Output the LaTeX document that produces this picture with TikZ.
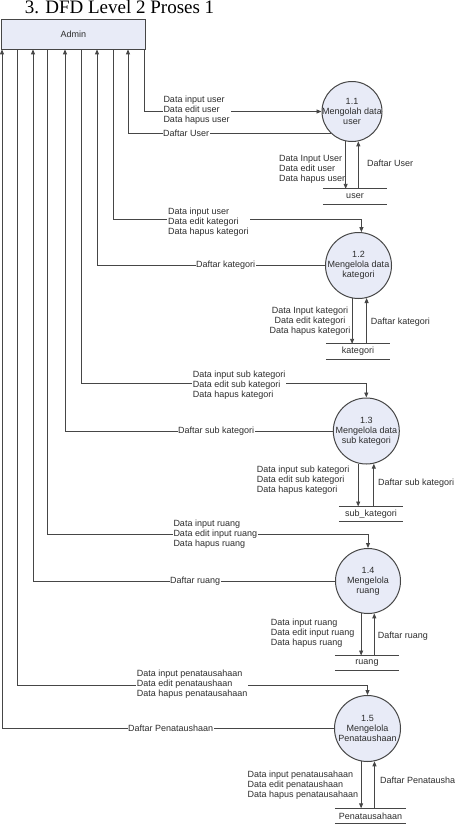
\documentclass[tikz,border=0pt]{standalone}
\usepackage{fontspec}
\setmainfont{Liberation Serif}
\setsansfont{Liberation Sans}
\usetikzlibrary{arrows.meta}
\definecolor{procfill}{RGB}{232,235,247}
\definecolor{edge}{RGB}{70,70,70}
\definecolor{txt}{RGB}{45,45,45}
\begin{document}
\begin{tikzpicture}[x=1pt,y=-1pt,
  every node/.style={font=\sffamily\fontsize{9}{10}\selectfont, text=txt},
  flow/.style={draw=edge, line width=0.9pt, -{Triangle[length=5pt,width=4pt]}},
  link/.style={draw=edge, line width=0.9pt},
  proc/.style={circle, draw=edge, line width=1pt, fill=procfill, minimum size=#1, inner sep=0pt},
  ptext/.style={align=center, inner sep=0pt},
  store/.style={minimum height=15pt, minimum width=#1, inner sep=0pt},
  lbl/.style={align=left, fill=white, inner sep=1pt, anchor=west},
  olbl/.style={fill=white, inner sep=0.6pt, anchor=west},
  slbl/.style={align=left, inner sep=0pt, anchor=west},
]
\useasboundingbox (0,0) rectangle (455,825);

% title
\node[font=\rmfamily\fontsize{19}{22}\selectfont, text=black, anchor=base, inner sep=0pt] (title) at (119.5,13.5) {3. DFD Level 2 Proses 1};

% external entity
\node[draw=edge, line width=0.9pt, fill=procfill, minimum width=144pt, minimum height=29.5pt, inner sep=0pt, anchor=north west] (admin) at (1,19) {Admin};

% processes
\node[proc=60, label={[ptext]center:{1.1\\Mengolah data\\user}}] (p1) at (352,111.5) {};
\node[proc=66, label={[ptext]center:{1.2\\Mengelola data\\kategori}}] (p2) at (358.5,265.5) {};
\node[proc=66, label={[ptext]center:{1.3\\Mengelola data\\sub kategori}}] (p3) at (366.3,431) {};
\node[proc=65, label={[ptext]center:{1.4\\Mengelola\\ruang}}] (p4) at (368,581) {};
\node[proc=66, label={[ptext]center:{1.5\\Mengelola\\Penataushaan}}] (p5) at (367.5,728.5) {};

% data stores
\node[store=64] (s1) at (355,196.5) {user};
\node[store=64] (s2) at (358,351.5) {kategori};
\node[store=64] (s3) at (371,514.2) {sub\_kategori};
\node[store=64] (s4) at (367,663.2) {ruang};
\node[store=71] (s5) at (370.5,816) {Penatausahaan};
\foreach \s in {s1,s2,s3,s4,s5}
  \draw[link] (\s.north west) -- (\s.north east) (\s.south west) -- (\s.south east);

% 1.1
\draw[flow] ([xshift=143pt]admin.south west) |- (p1.west);
\draw[flow] (p1.227) -| ([xshift=127pt]admin.south west);
\draw[flow] (p1.258) -- (p1.258 |- s1.north);
\draw[flow] (s1.north -| p1.282) -- (p1.282);
% 1.2
\draw[flow] ([xshift=112pt]admin.south west) -- ++(0,170) -| (p2.85);
\draw[flow] (p2.west) -| ([xshift=96pt]admin.south west);
\draw[flow] (p2.259) -- (p2.259 |- s2.north);
\draw[flow] (s2.north -| p2.284) -- (p2.284);
% 1.3
\draw[flow] ([xshift=80pt]admin.south west) -- ++(0,334.5) -| (p3.north);
\draw[flow] (p3.west) -| ([xshift=64pt]admin.south west);
\draw[flow] (p3.256) -- (p3.256 |- s3.north);
\draw[flow] (s3.north -| p3.283) -- (p3.283);
% 1.4
\draw[flow] ([xshift=46pt]admin.south west) -- ++(0,485) -| (p4.north);
\draw[flow] (p4.west) -| ([xshift=32pt]admin.south west);
\draw[flow] (p4.258) -- (p4.258 |- s4.north);
\draw[flow] (s4.north -| p4.281) -- (p4.281);
% 1.5
\draw[flow] ([xshift=16pt]admin.south west) -- ++(0,636) -| (p5.north);
\draw[flow] (p5.west) -| ([xshift=1pt]admin.south west);
\draw[flow] (p5.259) -- (p5.259 |- s5.north);
\draw[flow] (s5.north -| p5.282) -- (p5.282);

% labels 1.1
\node[lbl] (l1a) at (162.3,110.5) {Data input user\\Data edit user\\Data hapus user};
\node[olbl] (l1b) at (162.4,133.5) {Daftar User};
\node[slbl] (l1c) at (279,169) {Data Input User\\Data edit user\\Data hapus user};
\node[slbl] (l1d) at (367,163) {Daftar User};
% labels 1.2
\node[lbl] (l2a) at (167,222) {Data input user\\Data edit kategori\\Data hapus kategori};
\node[olbl] (l2b) at (195.4,265.5) {Daftar kategori};
\node[align=center, inner sep=0pt] (l2c) at (310,321) {Data Input kategori\\Data edit kategori\\Data hapus kategori};
\node[slbl] (l2d) at (370.7,321.7) {Daftar kategori};
% labels 1.3
\node[lbl] (l3a) at (191.7,385) {Data input sub kategori\\Data edit sub kategori\\Data hapus kategori};
\node[olbl] (l3b) at (177.4,431) {Daftar sub kategori};
\node[slbl] (l3c) at (256.7,480.5) {Data input sub kategori\\Data edit sub kategori\\Data hapus kategori};
\node[slbl] (l3d) at (378,482.7) {Daftar sub kategori};
% labels 1.4
\node[lbl] (l4a) at (172.3,534) {Data input ruang\\Data edit input ruang\\Data hapus ruang};
\node[olbl] (l4b) at (169.4,581) {Daftar ruang};
\node[slbl] (l4c) at (270.7,633) {Data input ruang\\Data edit input ruang\\Data hapus ruang};
\node[slbl] (l4d) at (377.7,636) {Daftar ruang};
% labels 1.5
\node[lbl] (l5a) at (135.7,684.3) {Data input penatausahaan\\Data edit penataushaan\\Data hapus penatausahaan};
\node[olbl] (l5b) at (127.4,728.5) {Daftar Penataushaan};
\node[slbl] (l5c) at (247.3,785) {Data input penatausahaan\\Data edit penataushaan\\Data hapus penatausahaan};
\node[slbl] (l5d) at (380,780.7) {Daftar Penatausha};
\end{tikzpicture}
\end{document}
